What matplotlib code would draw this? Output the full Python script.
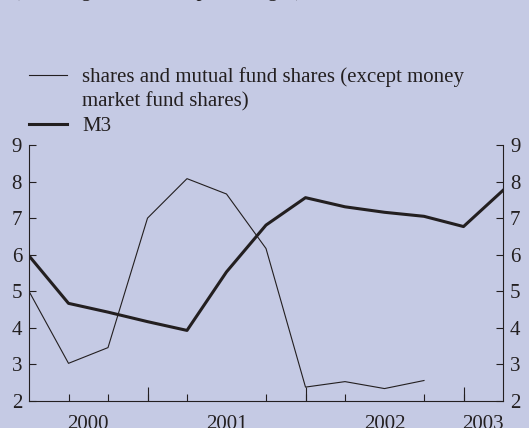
import matplotlib
matplotlib.use("Agg")
import matplotlib.pyplot as plt
from matplotlib.lines import Line2D

# quarterly observations, 13 points
quarters = list(range(13))
shares = [5.0, 3.03, 3.46, 7.0, 8.08, 7.66, 6.17, 2.38, 2.53, 2.34, 2.56]
m3 = [5.97, 4.67, 4.43, 4.17, 3.93, 5.53, 6.81, 7.56, 7.31, 7.16, 7.05, 6.77, 7.76]

years = ["2000", "2001", "2002", "2003"]
year_pos = [1.5, 5, 9, 11.5]
year_edges = [3, 7, 11]

bg = "#c5cae4"
ink = "#231f20"

plt.rcParams["font.family"] = ["Liberation Serif", "DejaVu Serif"]
plt.rcParams["font.size"] = 15

fig = plt.figure(figsize=(5.29, 4.28), dpi=100, facecolor=bg)
ax = fig.add_axes([29 / 529, 1 - 401 / 428, 474 / 529, 256 / 428], facecolor=bg)

l1, = ax.plot(quarters[:len(shares)], shares, color=ink, lw=0.8)
l2, = ax.plot(quarters, m3, color=ink, lw=2.2)

ax.set_xlim(0, 12)
ax.set_ylim(2, 9)
ax.set_yticks(range(2, 10))
ax.tick_params(axis="y", direction="in", length=5, width=0.8, color=ink,
               labelcolor=ink, left=True, right=True,
               labelleft=True, labelright=True, pad=5)

ax.set_xticks(year_pos, years)
ax.set_xticks(quarters[1:-1], minor=True)
ax.tick_params(axis="x", which="major", length=0, pad=10, labelcolor=ink)
ax.tick_params(axis="x", which="minor", direction="in", length=5, width=0.8, color=ink)

sec = ax.secondary_xaxis("bottom")
sec.set_xticks(year_edges, [""] * len(year_edges))
sec.tick_params(direction="in", length=10, width=0.8, color=ink)
sec.spines["bottom"].set_visible(False)

ax.spines["top"].set_visible(False)
for s in ["left", "right", "bottom"]:
    ax.spines[s].set_color(ink)
    ax.spines[s].set_linewidth(0.8)

blank = Line2D([], [], color="none")
leg = fig.legend([l1, blank, l2],
                 ["shares and mutual fund shares (except money",
                  "market fund shares)", "M3"],
                 loc="upper left", bbox_to_anchor=(29 / 529, 1 - 67 / 428), frameon=False,
                 borderpad=0, borderaxespad=0,
                 handlelength=1.8, handletextpad=0.75, labelspacing=0.25,
                 fontsize=15, labelcolor=ink)

fig.text(13 / 529, 1 + 4 / 428, "(annual growth rates; percentages)",
         ha="left", va="baseline", color=ink, fontsize=15)

fig.savefig("out.png", dpi=100, facecolor=bg)
